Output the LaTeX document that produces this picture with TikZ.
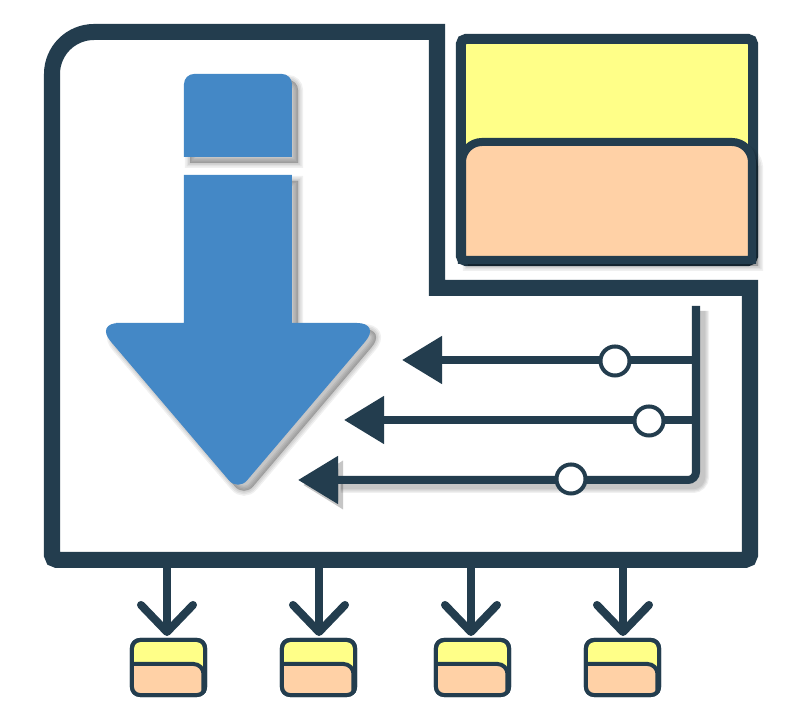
\documentclass[tikz,border=0pt]{standalone}
\usetikzlibrary{arrows.meta}
\usepackage{xcolor}
\definecolor{slate}{HTML}{233D4E}
\definecolor{skyblue}{HTML}{4488C6}
\definecolor{paleyellow}{HTML}{FFFF88}
\definecolor{peach}{HTML}{FFD1A6}
\tikzset{
 shadowlayer/.style={preaction={draw=black, fill=black, opacity=.06, line width=#1, transform canvas={shift={(.06cm,-.06cm)}}}},
 lineshadow/.style={preaction={draw=black, opacity=.06, line width=#1, transform canvas={shift={(.05cm,-.05cm)}}}},
 softfill/.style={shadowlayer=.1cm, shadowlayer=.07cm, shadowlayer=.04cm, shadowlayer=.01cm},
 softline/.style={lineshadow=.16cm, lineshadow=.135cm, lineshadow=.11cm, lineshadow=.085cm},
 flowline/.style={slate, line width=.08cm},
 knob/.style={circle, draw=slate, fill=white, line width=.04cm, minimum size=.29cm, inner sep=0},
 chip/.style={draw=slate, fill=paleyellow, line width=.04cm, rounded corners=.08cm, minimum width=.73cm, minimum height=.55cm, inner sep=0, outer sep=0},
 bookbox/.style={draw=slate, fill=paleyellow, line width=.1cm, rounded corners=.05cm, minimum width=2.92cm, minimum height=2.22cm, inner sep=0}
}
\begin{document}
\begin{tikzpicture}[x=.01cm, y=-.01cm, >={Triangle[length=.4cm, width=.46cm]}]
\useasboundingbox[fill=white] (0,0) rectangle (802,722);
\draw[slate, line width=.16cm, miter limit=10] (94,32)--(437,32)--(437,288)--(750,288)--(750,500) [rounded corners=.05cm] --(750,560)--(52,560)--(52,120) [sharp corners] --(52,74) arc[start angle=180, end angle=270, radius=42]--cycle;
\node[bookbox] (book) at (607,150) {};
\draw[slate, fill=peach, line width=.08cm, softfill] (462,260)--(462,180) [rounded corners=.2cm] --(462,142)--(752,142)--(752,180) [sharp corners] --(752,260)--cycle;
\fill[skyblue, softfill] (184,157)--(184,110) [rounded corners=.1cm] --(184,74)--(292,74)--(292,110) [sharp corners] --(292,157)--cycle;
\fill[skyblue, softfill] (184,175)--(292,175)--(292,323) [rounded corners=.24cm] --(381,323) [rounded corners=.14cm] --(238,491) [rounded corners=.24cm] --(95,323)--(140,323) [sharp corners] --(184,323)--cycle;
\coordinate (railtop) at (696,306);
\coordinate (railA) at (696,360);
\coordinate (railB) at (696,420);
\coordinate (railC) at (696,480);
\coordinate (tipA) at (402,360);
\coordinate (tipB) at (344,420);
\coordinate (tipC) at (298,480);
\draw[flowline, softline, ->] (railtop) [rounded corners=.08cm] --(railC)--(tipC);
\draw[flowline, ->] (railA)--(tipA);
\draw[flowline, ->] (railB)--(tipB);
\node[knob] (knobA) at (615,361) {};
\node[knob] (knobB) at (649,421) {};
\node[knob] (knobC) at (571,479) {};
\foreach \x/\c [count=\i] in {167/168.5, 319/318.5, 471/472.5, 623/622.5} {
\coordinate (stem\i) at (\x,566);
\node[chip] (chip\i) at (\c,667.5) {};
\fill[peach] (\c-35,693)--(\c-35,664)--(\c,664) [rounded corners=.1cm] --(\c+35,664)--(\c+35,680) [sharp corners] --(\c+35,693)--cycle;
\draw[slate, line width=.04cm] (\c-36,664)--(\c,664) [rounded corners=.1cm] --(\c+35,664)--(\c+35,680) [sharp corners] --(\c+35,693);
\draw[slate, line width=.04cm, rounded corners=.08cm] (chip\i.north west) rectangle (chip\i.south east);
\draw[flowline, -{Straight Barb[round, length=.27cm, width=.52cm]}] (stem\i)--(\x,636);
}
\end{tikzpicture}
\end{document}
